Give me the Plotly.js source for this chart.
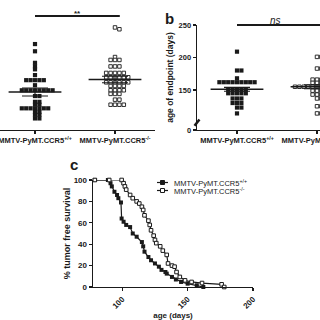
<!DOCTYPE html>
<html><head><meta charset="utf-8">
<script src="https://cdn.plot.ly/plotly-3.0.1.min.js"></script>
<style>html,body{margin:0;padding:0;background:#fff}#chart{width:320px;height:320px}</style>
</head><body><div id="chart"></div>
<script>
// ---------------- data ----------------
const groupLabels = ['MMTV-PyMT.CCR5<sup>+/+</sup>', 'MMTV-PyMT.CCR5<sup>-/-</sup>'];
// panel a (its y axis is cropped away in the source; values on an estimated scale)
const aWT = [169,159,143,138,134,126,119,119,119,119,119,112,105,105,105,105,105,105,105,105,97,97,89,89,85,85,80,80,80,80,80,80,80,75,75,71,71,66,66];
const aKO = [192,189.5,151,147,147,147,138,138,138,129,129,129,129,129,123,123,123,123,123,123,116,116,116,116,116,116,111,111,111,111,105,105,105,105,100,100,100,92,92,85,85,85,85];
const aMean = [102.6, 120];
const aSEM = [5.5, 4.5];
const aSig = '**';
// panel b: age of endpoint (days)
const bWT = [209,180,180,168,162,162,162,162,162,162,162,162,162,151,151,151,151,151,145,145,145,145,145,137,137,137,130,130,130,123,123,114];
const bKO = [201,201,183,183,166,166,166,161,161,161,155,155,155,155,155,155,155,155,155,155,155,149,149,149,149,143,143,143,143,137,137,125,125,114,114];
const bMean = [151, 155];
const bSEM = [3, 3];
const bTickVals = [88.5,150,200,250];
const bTickText = ['0','150','200','250'];
const bSig = 'ns';
// panel c: tumor free survival
const survDaysWT = [79,89,91,92,94,96,97,99,99.5,101,103,106,108,111,115,116,117,120,122,125,128,130,133,134,138,141,145,150,157,162];
const survPctWT  = [100,100,97,94,89,86,83,79,64,61,58,56,50,47,42,38,33,28,25,22,19,16,14,12.5,9.4,7,4.7,3.1,1.6,0];
const survDaysKO = [79,90,99.5,101,102,103,106,108,111,113,115,116,117,120,121,122,124,125,126,129,131,134,135,138,140,141.5,144,148,153,161,176,178];
const survPctKO  = [100,100,100,97,94,91,86,83,80,78,75,72,67,62,58,53,48,44,41,38,34,30,22,20,19,14,9.4,6.2,4.7,3.7,2.5,0];
const survXTicks = [100,150,200];
const survYTicks = [0,20,40,60,80,100];
const legendNames = ['MMTV-PyMT.CCR5<sup>+/+</sup>', 'MMTV-PyMT.CCR5<sup>-/-</sup>'];

// ---------------- geometry / style ----------------
const W = 320, H = 320;
const FONT = 'Liberation Sans, Arial, Helvetica, sans-serif';
const INK = '#1a1a1a';
const A = {x0:0,   x1:155, y0:0,   y1:130, xr:[-0.4375,1.5],  yr:[50,230]};
const B = {x0:197, x1:320, y0:25,  y1:130, xr:[-0.5,1.0375],  yr:[88.5,250]};
const C = {x0:93,  x1:253, y0:180, y1:287, xr:[77.6,200],     yr:[0,100]};
const dx = g => [g.x0/W, g.x1/W];
const dy = g => [1-g.y1/H, 1-g.y0/H];
const xFrac = (g,c) => (c-g.xr[0])/(g.xr[1]-g.xr[0]);

function beeswarm(vals, cat, g){
  const sx = (g.x1-g.x0)/(g.xr[1]-g.xr[0]);
  const sy = (g.y1-g.y0)/(g.yr[1]-g.yr[0]);
  const placed = [], xs = [];
  const HALF = 2.2, GAP = 4.2, VGAP = 2.6;
  vals.forEach(v => {
    const py = v*sy;
    for (let k=0;k<100;k++){
      const off = k===0 ? 0 : (k%2 ? 1 : -1)*Math.ceil(k/2)*HALF;
      if (!placed.some(p => Math.abs(p.x-off)<GAP && Math.abs(p.y-py)<VGAP)){
        placed.push({x:off,y:py}); xs.push(cat + off/sx); break;
      }
    }
  });
  return xs;
}
function meanLines(means, half){
  const x=[], y=[];
  means.forEach((m,i)=>{ x.push(i-half,i+half,null); y.push(m,m,null); });
  return {x,y};
}

const filled = {symbol:'square', size:4.2, color:INK, line:{width:0}};
const open = {symbol:'square', size:3.5, color:'#fff', line:{color:INK, width:0.9}};

const traces = [];
function dotPanel(wt, ko, means, sems, g, xa, ya){
  traces.push({type:'scatter', mode:'markers', x:beeswarm(wt,0,g), y:wt, xaxis:xa, yaxis:ya, marker:filled, hoverinfo:'skip'});
  traces.push({type:'scatter', mode:'markers', x:beeswarm(ko,1,g), y:ko, xaxis:xa, yaxis:ya, marker:open, hoverinfo:'skip'});
  const ml = meanLines(means, 0.33);
  traces.push({type:'scatter', mode:'lines', x:ml.x, y:ml.y, xaxis:xa, yaxis:ya, line:{color:INK,width:1.5}, hoverinfo:'skip'});
  traces.push({type:'scatter', mode:'markers', x:[0,1], y:means, xaxis:xa, yaxis:ya, marker:{opacity:0},
    error_y:{type:'data', array:sems, color:INK, thickness:1.1, width:13}, hoverinfo:'skip'});
}
dotPanel(aWT, aKO, aMean, aSEM, A, 'x', 'y');
dotPanel(bWT, bKO, bMean, bSEM, B, 'x2', 'y2');

traces.push({type:'scatter', mode:'lines+markers', x:survDaysWT, y:survPctWT, xaxis:'x3', yaxis:'y3',
  line:{color:INK,width:1.2}, marker:{symbol:'square', size:4, color:INK}, cliponaxis:false});
traces.push({type:'scatter', mode:'lines+markers', x:survDaysKO, y:survPctKO, xaxis:'x3', yaxis:'y3',
  line:{color:INK,width:1.2}, marker:{symbol:'square', size:3.6, color:'#fff', line:{color:INK,width:1}}, cliponaxis:false});

const axBase = {showgrid:false, zeroline:false, showline:true, linecolor:INK, linewidth:1.4,
  ticks:'outside', ticklen:3, tickwidth:1.2, tickcolor:INK, fixedrange:true, automargin:false, ticklabeloverflow:'allow'};
const bold = (s) => ({family:FONT, size:s, color:INK, weight:'bold'});

const shapes = [
  {type:'line', xref:'x domain', yref:'y domain', x0:xFrac(A,0), x1:xFrac(A,1.06), y0:1-16/130, y1:1-16/130, line:{color:INK,width:2}},
  {type:'line', xref:'x2 domain', yref:'y2 domain', x0:xFrac(B,0), x1:1.2, y0:1, y1:1, line:{color:INK,width:2}},
  {type:'line', xref:'x2 domain', yref:'y2 domain', x0:-0.02, x1:0.02, y0:0.04, y1:0.10, line:{color:INK,width:2.5}},
];
// manual legend for panel c
const legRows = [182.5, 190.5];
legRows.forEach((py,i)=>{
  shapes.push({type:'line', xref:'paper', yref:'paper', x0:157/W, x1:168/W, y0:1-py/H, y1:1-py/H, line:{color:INK,width:1.2}});
  shapes.push({type:'rect', xref:'paper', yref:'paper', x0:160.5/W, x1:164.5/W, y0:1-(py+2)/H, y1:1-(py-2)/H,
    fillcolor: i===0 ? INK : '#fff', line:{color:INK,width:1}});
});

const annotations = [
  {text:aSig, xref:'x domain', yref:'y domain', x:xFrac(A,0.53), y:1-7/130, showarrow:false, font:bold(8)},
  {text:bSig, xref:'x2 domain', yref:'y2 domain', x:xFrac(B,0.48), y:1+12/105, showarrow:false,
    font:{family:FONT, size:10, color:INK, style:'italic'}},
  {text:'b', xref:'paper', yref:'paper', x:169/W, y:1-8/H, showarrow:false, font:bold(15)},
  {text:'c', xref:'paper', yref:'paper', x:67.5/W, y:1-164/H, showarrow:false, font:bold(15)},
];
legRows.forEach((py,i)=>{
  annotations.push({text:legendNames[i], xref:'paper', yref:'paper', x:172/W, y:1-py/H, xanchor:'left', yanchor:'middle',
    showarrow:false, font:{family:FONT, size:7.5, color:INK}});
});

const layout = {
  width:W, height:H, margin:{l:0,r:0,t:0,b:0}, paper_bgcolor:'#fff', plot_bgcolor:'rgba(0,0,0,0)',
  showlegend:false, font:{family:FONT, color:INK},
  xaxis:Object.assign({}, axBase, {domain:dx(A), range:A.xr, anchor:'y', tickvals:[0,1], ticktext:groupLabels, tickfont:bold(7.5)}),
  yaxis:{domain:dy(A), range:A.yr, anchor:'x', visible:false, fixedrange:true},
  xaxis2:Object.assign({}, axBase, {domain:dx(B), range:B.xr, anchor:'y2', tickvals:[0,1], ticktext:groupLabels, tickfont:bold(7.5)}),
  yaxis2:Object.assign({}, axBase, {domain:dy(B), range:B.yr, anchor:'x2', tickvals:bTickVals, ticktext:bTickText, tickfont:bold(7.5),
    title:{text:'age of endpoint (days)', font:bold(8.5), standoff:3}}),
  xaxis3:Object.assign({}, axBase, {domain:dx(C), range:C.xr, anchor:'y3', tickvals:survXTicks, tickangle:-45, tickfont:bold(8),
    title:{text:'age (days)', font:bold(8), standoff:2}}),
  yaxis3:Object.assign({}, axBase, {domain:dy(C), range:C.yr, anchor:'x3', tickvals:survYTicks, ticksuffix:'%', tickfont:bold(8),
    title:{text:'% tumor free survival', font:bold(9), standoff:1}}),
  shapes, annotations
};
Plotly.newPlot('chart', traces, layout, {displayModeBar:false, staticPlot:true});
</script></body></html>
